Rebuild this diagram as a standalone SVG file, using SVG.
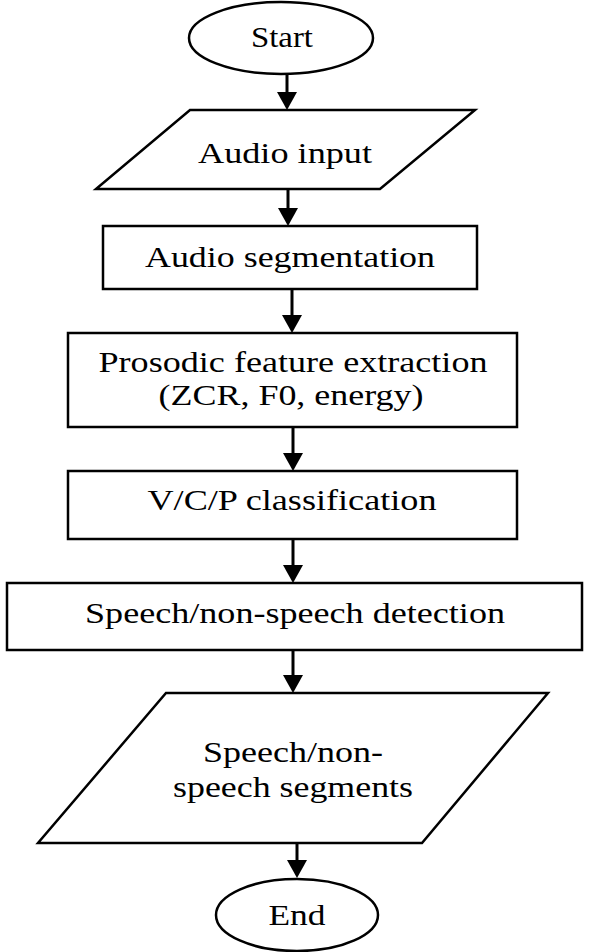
<svg xmlns="http://www.w3.org/2000/svg" width="590" height="952" viewBox="0 0 590 952">
  <style>
    .shape { fill: #ffffff; stroke: #000000; stroke-width: 2.5; }
    .label { font-family: 'Liberation Serif', Tinos, 'Times New Roman', Times, serif; font-size: 30px; fill: #000000; text-anchor: middle; }
    .flow { stroke: #000000; stroke-width: 3; fill: none; marker-end: url(#head); }
  </style>
  <defs>
    <marker id="head" viewBox="0 0 18 20" refX="0" refY="10" markerWidth="18" markerHeight="20" markerUnits="userSpaceOnUse" orient="auto">
      <path d="M0,0 L18,10 L0,20 z" fill="#000000"/>
    </marker>
  </defs>

  <rect width="590" height="952" fill="#ffffff"/>

  <!-- connectors -->
  <g id="connectors">
    <line class="flow" x1="287" y1="75" x2="287" y2="92"/>
    <line class="flow" x1="288" y1="190" x2="288" y2="208"/>
    <line class="flow" x1="292" y1="290" x2="292" y2="315"/>
    <line class="flow" x1="293" y1="428" x2="293" y2="453"/>
    <line class="flow" x1="293" y1="540" x2="293" y2="565"/>
    <line class="flow" x1="293" y1="651" x2="293" y2="675"/>
    <line class="flow" x1="297" y1="844" x2="297" y2="860"/>
  </g>

  <g id="start">
    <ellipse class="shape" cx="281" cy="38" rx="92" ry="36"/>
    <text class="label" font-family="Liberation Serif, serif" x="282" y="47" textLength="62" lengthAdjust="spacingAndGlyphs">Start</text>
  </g>

  <g id="audio-input">
    <polygon class="shape" points="190,110 475,110 380,189 96,189"/>
    <text class="label" font-family="Liberation Serif, serif" x="285" y="163" textLength="174" lengthAdjust="spacingAndGlyphs">Audio input</text>
  </g>

  <g id="audio-segmentation">
    <rect class="shape" x="103" y="226" width="374" height="63"/>
    <text class="label" font-family="Liberation Serif, serif" x="290" y="267" textLength="290" lengthAdjust="spacingAndGlyphs">Audio segmentation</text>
  </g>

  <g id="feature-extraction">
    <rect class="shape" x="68" y="333" width="449" height="94"/>
    <text class="label" font-family="Liberation Serif, serif" x="293" y="372" textLength="389" lengthAdjust="spacingAndGlyphs">Prosodic feature extraction</text>
    <text class="label" font-family="Liberation Serif, serif" x="291" y="405" textLength="265" lengthAdjust="spacingAndGlyphs">(ZCR, F0, energy)</text>
  </g>

  <g id="vcp-classification">
    <rect class="shape" x="68" y="471" width="449" height="68"/>
    <text class="label" font-family="Liberation Serif, serif" x="292" y="510" textLength="289" lengthAdjust="spacingAndGlyphs">V/C/P classification</text>
  </g>

  <g id="speech-detection">
    <rect class="shape" x="7" y="583" width="575" height="67"/>
    <text class="label" font-family="Liberation Serif, serif" x="295" y="623" textLength="420" lengthAdjust="spacingAndGlyphs">Speech/non-speech detection</text>
  </g>

  <g id="speech-segments">
    <polygon class="shape" points="166,693 548,693 422,843 38,843"/>
    <text class="label" font-family="Liberation Serif, serif" x="293" y="762" textLength="180" lengthAdjust="spacingAndGlyphs">Speech/non-</text>
    <text class="label" font-family="Liberation Serif, serif" x="293" y="797" textLength="240" lengthAdjust="spacingAndGlyphs">speech segments</text>
  </g>

  <g id="end">
    <ellipse class="shape" cx="297" cy="915" rx="81" ry="36"/>
    <text class="label" font-family="Liberation Serif, serif" x="297" y="925" textLength="57" lengthAdjust="spacingAndGlyphs">End</text>
  </g>
</svg>
